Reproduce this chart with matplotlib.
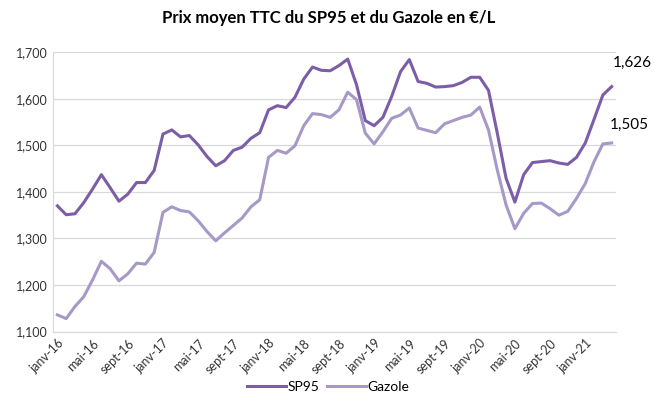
import pandas as pd
import matplotlib.pyplot as plt
from matplotlib.ticker import FuncFormatter

plt.rcParams['font.family'] = ['Lato', 'DejaVu Sans']

# monthly average prices, janv-16 .. avr-21 (x1000 EUR/L)
months = ['janv', 'févr', 'mars', 'avr', 'mai', 'juin', 'juil', 'août',
          'sept', 'oct', 'nov', 'déc']
labels = [f'{m}-{y:02d}' for y in range(16, 22) for m in months][:64]

sp95 = [1370, 1351, 1353, 1377, 1406, 1437, 1409, 1380, 1395, 1420, 1420, 1446,
        1524, 1533, 1518, 1521, 1501, 1476, 1456, 1467, 1489, 1496, 1515, 1527,
        1576, 1585, 1581, 1603, 1642, 1668, 1661, 1660, 1671, 1685, 1630, 1553,
        1542, 1560, 1605, 1658, 1684, 1637, 1633, 1625, 1626, 1628, 1635, 1646,
        1646, 1618, 1526, 1429, 1378, 1437, 1463, 1465, 1467, 1462, 1459, 1474,
        1505, 1556, 1608, 1626]

gazole = [1136, 1128, 1154, 1175, 1211, 1251, 1235, 1209, 1224, 1247, 1245, 1270,
          1356, 1368, 1360, 1357, 1338, 1315, 1295, 1312, 1328, 1344, 1368, 1383,
          1474, 1489, 1483, 1499, 1542, 1568, 1566, 1560, 1576, 1614, 1598, 1526,
          1503, 1529, 1558, 1565, 1580, 1537, 1532, 1527, 1546, 1553, 1560, 1565,
          1582, 1533, 1447, 1372, 1321, 1354, 1375, 1376, 1364, 1350, 1358, 1386,
          1418, 1465, 1503, 1505]

df = pd.DataFrame({'SP95': sp95, 'Gazole': gazole}, index=labels)

fig = plt.figure(figsize=(6.54, 4.01), dpi=100)
ax = fig.add_axes([0.081, 0.173, 0.861, 0.697])

x = range(len(df))
ax.plot(x, df['SP95'], color='#7B5EA7', lw=2.2, label='SP95')
ax.plot(x, df['Gazole'], color='#A799C7', lw=2.2, label='Gazole')

ax.set_xlim(-0.5, len(df) - 0.5)
ax.set_ylim(1100, 1700)
ax.set_yticks(range(1100, 1701, 100))
ax.yaxis.set_major_formatter(FuncFormatter(lambda v, p: f'{int(v):,}'))
ax.set_xticks(list(x)[::4])
ax.set_xticklabels(labels[::4], rotation=45, ha='right', rotation_mode='anchor')
ax.tick_params(axis='both', length=0, labelsize=9, colors='#333333')
ax.tick_params(axis='x', pad=4)

ax.grid(axis='y', color='#D9D9D9', lw=0.9)
ax.set_axisbelow(True)
for s in ['top', 'right']:
    ax.spines[s].set_visible(False)
for s in ['left', 'bottom']:
    ax.spines[s].set_color('#D9D9D9')

# end-of-series labels
last = len(df) - 1
ax.annotate(f"{sp95[-1]:,}", (last, sp95[-1]), xytext=(15, 12),
            textcoords='offset points', ha='center', va='bottom', fontsize=11)
ax.annotate(f"{gazole[-1]:,}", (last, gazole[-1]), xytext=(13, 8),
            textcoords='offset points', ha='center', va='bottom', fontsize=11)

fig.suptitle('Prix moyen TTC du SP95 et du Gazole en €/L', x=0.503, y=0.975,
             fontsize=12, fontweight='bold')
fig.legend(loc='lower center', bbox_to_anchor=(0.502, -0.01), ncol=2,
           frameon=False, fontsize=10, handlelength=2.8, columnspacing=0.6,
           handletextpad=0.1)

fig.savefig('out.png', dpi=100)
